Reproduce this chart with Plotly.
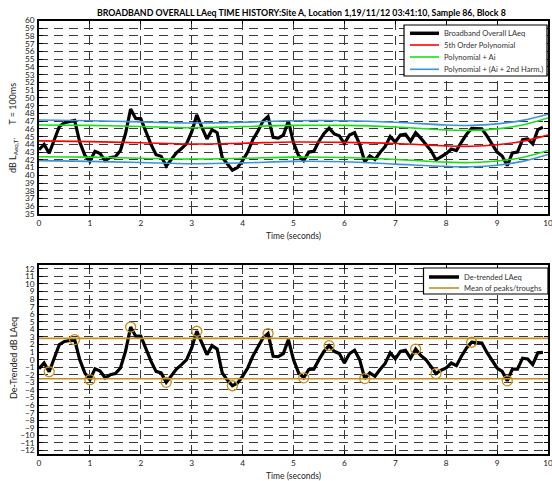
import numpy as np
import plotly.graph_objects as go

# ---------------- data ----------------
time_s = np.round(np.arange(100) * 0.1, 1)

laeq = [43.3, 44.0, 42.85, 44.6, 46.3, 46.8, 46.9, 47.1, 44.3, 42.6,
        41.8, 43.1, 42.8, 41.9, 42.3, 42.4, 43.2, 45.4, 48.55, 47.35,
        47.3, 45.5, 44.0, 42.65, 42.45, 41.2, 42.0, 42.9, 43.45, 44.1,
        45.6, 47.8, 46.2, 44.7, 45.9, 45.5, 42.3, 41.4, 40.65, 41.0,
        41.9, 43.0, 44.6, 45.7, 47.0, 47.6, 44.9, 44.8, 45.2, 47.0,
        44.2, 42.55, 41.9, 43.0, 43.1, 44.4, 45.4, 46.1, 45.35, 45.1,
        44.1, 45.2, 45.5, 44.0, 41.75, 42.5, 42.05, 42.95, 43.7, 45.0,
        44.3, 45.2, 45.3, 44.4, 45.5, 44.8, 44.0, 43.2, 42.0, 42.4,
        42.8, 43.4, 43.2, 44.3, 45.3, 46.05, 46.05, 46.0, 45.1, 44.1,
        43.0, 42.5, 41.25, 42.9, 43.0, 44.6, 44.7, 44.05, 45.9, 46.2]

poly_t = [0, 1, 2, 3, 4, 5, 6, 7, 8, 8.5, 9, 9.5, 10]
poly5 = [44.45, 44.35, 44.2, 44.05, 44.15, 44.3, 44.25, 44.1, 43.8, 43.75, 43.95, 44.4, 45.2]
ai_upper = [46.5, 46.45, 46.3, 46.15, 46.3, 46.45, 46.45, 46.25, 45.85, 45.8, 46.0, 46.5, 47.4]
ai_lower = [42.4, 42.35, 42.2, 42.1, 42.2, 42.35, 42.3, 42.05, 41.7, 41.65, 41.85, 42.3, 43.2]
harm_upper = [47.15, 47.05, 46.9, 46.75, 46.85, 47.05, 47.05, 46.85, 46.5, 46.45, 46.65, 47.1, 47.9]
harm_lower = [41.9, 41.8, 41.65, 41.5, 41.6, 41.8, 41.75, 41.45, 41.15, 41.1, 41.3, 41.8, 42.7]

detrended = [-1.2, -0.45, -1.6, 0.2, 2.0, 2.4, 2.5, 2.65, 0.0, -1.75,
             -2.65, -1.2, -1.5, -2.4, -2.0, -1.85, -1.1, 1.1, 4.3, 3.1,
             3.1, 1.3, -0.2, -1.55, -1.75, -3.0, -2.2, -1.25, -0.65, 0.0,
             1.55, 3.75, 2.2, 0.65, 1.85, 1.4, -1.75, -2.7, -3.45, -3.1,
             -2.2, -1.1, 0.45, 1.55, 2.85, 3.45, 0.45, 0.4, 0.8, 2.65,
             0.0, -1.75, -2.4, -1.3, -1.25, 0.0, 1.1, 1.85, 1.1, 0.8,
             -0.45, 0.8, 1.25, 0.0, -2.5, -1.75, -2.2, -1.3, -0.5, 0.9,
             0.1, 1.1, 1.25, 0.2, 1.4, 0.55, 0.0, -0.9, -1.85, -1.4,
             -1.1, -0.45, -0.8, 0.45, 1.55, 2.3, 2.3, 2.2, 0.95, 0.0,
             -1.1, -1.55, -2.8, -1.25, -1.25, 0.2, 0.1, -0.65, 0.9, 0.95]

peak_idx = [7, 18, 31, 45, 57, 74, 85]
trough_idx = [2, 10, 25, 38, 52, 64, 78, 92]

x_ticks = list(range(0, 11))
top_y_ticks = list(range(35, 61))
bot_y_ticks = list(range(-12, 13))

top_legend = ["Broadband Overall LAeq", "5th Order Polynomial", "Polynomial + Ai",
              "Polynomial + (Ai + 2nd Harm.)"]
bot_legend = ["De-trended LAeq", "Mean of peaks/troughs"]

# ---------------- styling ----------------
FONT = "Lato"
RED = "#ff0000"
GREEN = "#16e016"
BLUE = "#3a94d6"
GOLD = "#c2901c"

W, H = 552, 481
L, R = 39, 4
PW = W - L - R


def px_x(px):
    return (px - L) / PW


def px_y(px):
    return 1 - px / H


fig = go.Figure()


def spline(x, y, color):
    fig.add_trace(go.Scatter(x=x, y=y, mode="lines", showlegend=False,
                             line=dict(color=color, width=1.6, shape="spline", smoothing=1.0),
                             xaxis="x", yaxis="y"))


# top plot
fig.add_trace(go.Scatter(x=time_s, y=laeq, mode="lines", showlegend=False,
                         line=dict(color="black", width=3.2), xaxis="x", yaxis="y"))
spline(poly_t, poly5, RED)
spline(poly_t, ai_upper, GREEN)
spline(poly_t, ai_lower, GREEN)
spline(poly_t, harm_upper, BLUE)
spline(poly_t, harm_lower, BLUE)

# bottom plot
det = np.array(detrended)
mean_peak = float(np.mean(det[peak_idx]))
mean_trough = float(np.mean(det[trough_idx]))
fig.add_trace(go.Scatter(x=time_s, y=detrended, mode="lines", showlegend=False,
                         line=dict(color="black", width=3.2), xaxis="x2", yaxis="y2"))
for m in (mean_peak, mean_trough):
    fig.add_trace(go.Scatter(x=[x_ticks[0], x_ticks[-1]], y=[m, m], mode="lines", showlegend=False,
                             line=dict(color=GOLD, width=1.6), xaxis="x2", yaxis="y2"))
ext_idx = sorted(peak_idx + trough_idx)
fig.add_trace(go.Scatter(x=time_s[ext_idx], y=det[ext_idx], mode="markers", showlegend=False,
                         marker=dict(symbol="circle-open", size=10, color=GOLD, line=dict(width=1.3)),
                         xaxis="x2", yaxis="y2"))

grid = dict(showgrid=True, gridcolor="#3a3a3a", gridwidth=1, griddash="9px,6px",
            showline=True, linecolor="black", linewidth=1.5, mirror="ticks",
            ticks="inside", ticklen=4, tickcolor="black", zeroline=False,
            tickfont=dict(family=FONT, size=8.3, color="#222"))

shapes = []
annotations = []


# custom legends (matching the compact MATLAB legend boxes)
def legend_box(x0, y0, x1, y1, entries, colors, widths, ys, lx0, lx1, tx, size):
    shapes.append(dict(type="rect", xref="paper", yref="paper", x0=px_x(x0), x1=px_x(x1),
                       y0=px_y(y1), y1=px_y(y0), line=dict(color="black", width=1.2),
                       fillcolor="white", layer="above"))
    for name, c, w, yy in zip(entries, colors, widths, ys):
        shapes.append(dict(type="line", xref="paper", yref="paper", x0=px_x(lx0), x1=px_x(lx1),
                           y0=px_y(yy), y1=px_y(yy), line=dict(color=c, width=w), layer="above"))
        annotations.append(dict(text=name, x=px_x(tx), y=px_y(yy), xref="paper", yref="paper",
                                xanchor="left", yanchor="middle", showarrow=False,
                                font=dict(family=FONT, size=size, color="#333")))


legend_box(404, 25, 547, 76, top_legend, ["black", RED, GREEN, BLUE], [3.5, 1.6, 1.6, 1.6],
           [33.3, 45, 57, 69.3], 410, 439, 442, 7.6)
legend_box(423.5, 268, 548, 294, bot_legend, ["black", GOLD], [3.5, 1.6],
           [277, 288], 429, 459, 461.5, 7.6)


def label(text, x, y, size, angle=0, bold=False, color="#222"):
    annotations.append(dict(text=f"<b>{text}</b>" if bold else text, x=px_x(x), y=px_y(y),
                            xref="paper", yref="paper", xanchor="center", yanchor="middle",
                            showarrow=False, textangle=angle,
                            font=dict(family=FONT, size=size, color=color)))


label("BROADBAND OVERALL LAeq TIME HISTORY:Site A, Location 1,19/11/12 03:41:10, Sample 86, Block 8",
      301, 12.5, 8.8, bold=True, color="black")
label("Time (seconds)", L + PW / 2, 235.5, 8.5)
label("Time (seconds)", L + PW / 2, 475.5, 8.5)
label("dB L<sub>Aeq,T'</sub>      T = 100ms", 13, 128, 9, angle=-90)
label("De-Trended dB LAeq", 13, 358, 9, angle=-90)

fig.update_layout(
    width=W, height=H, showlegend=False,
    margin=dict(l=L, r=R, t=0, b=0, autoexpand=False),
    paper_bgcolor="white", plot_bgcolor="white",
    font=dict(family=FONT, size=9, color="#222"),
    xaxis=dict(domain=[0, 1], range=[0, 10], tickvals=x_ticks, anchor="y",
               ticklabeloverflow="allow", **grid),
    yaxis=dict(domain=[px_y(214), px_y(20.5)], range=[35, 60], tickvals=top_y_ticks, anchor="x",
               ticklabelstandoff=1, **grid),
    xaxis2=dict(domain=[0, 1], range=[0, 10], tickvals=x_ticks, anchor="y2",
                ticklabeloverflow="allow", **grid),
    yaxis2=dict(domain=[px_y(454.3), px_y(265)], range=[-12.5, 12.5], tickvals=bot_y_ticks, anchor="x2",
                ticklabelstandoff=1, **grid),
    shapes=shapes,
    annotations=annotations,
)

fig.write_html("out.html", config={"displayModeBar": False},
               post_script="document.body.style.margin='0';document.body.style.overflow='hidden';")
